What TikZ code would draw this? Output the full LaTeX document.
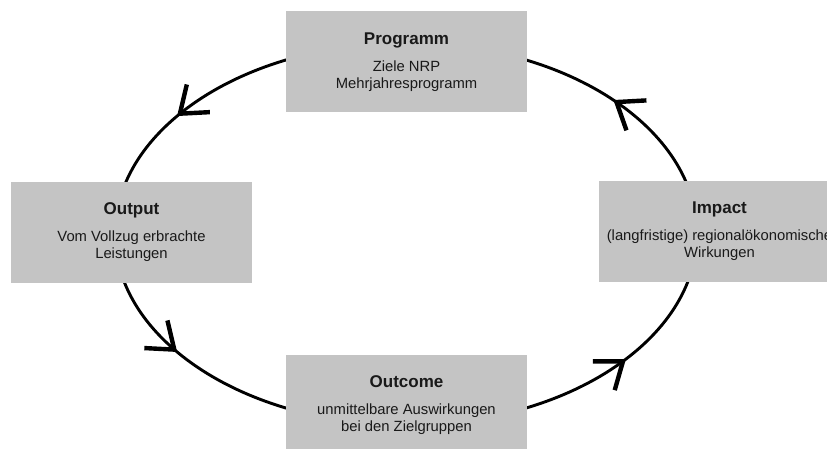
\documentclass[tikz,border=0pt]{standalone}
\usepackage{fontspec}
\setmainfont{Liberation Sans}
\usetikzlibrary{arrows.meta,decorations.markings}

\definecolor{boxgray}{RGB}{196,196,196}
\newcommand{\phasetitle}{\fontsize{17}{20}\selectfont\bfseries}

\tikzset{
	phase/.style={fill=boxgray, minimum width=241pt, minimum height=101pt, inner sep=0pt,
		align=center, font=\fontsize{14.8}{17}\selectfont, text=black!90},
	cyclearc/.style={line width=2.9pt,
		decoration={markings, mark=at position #1 with {\arrow{Straight Barb[length=24pt,width=36pt,line width=4.4pt]}}},
		postaction={decorate}}
}

\begin{document}
\begin{tikzpicture}[x=1pt, y=1pt]
		\useasboundingbox (0,0) rectangle (827,448);
		\clip (0,0) rectangle (827,448);
		
		%points of the loop under the boxes
		\coordinate (progIn) at (406,405);
		\coordinate (outputIn) at (115,214);
		\coordinate (outcomeIn) at (406,23);
		\coordinate (impactIn) at (697,214);
		
		%the loop
		\draw[cyclearc=0.64] (progIn) arc[start angle=90, end angle=180, x radius=291pt, y radius=191pt];
		\draw[cyclearc=0.36] (outputIn) arc[start angle=180, end angle=270, x radius=291pt, y radius=191pt];
		\draw[cyclearc=0.61] (outcomeIn) arc[start angle=270, end angle=360, x radius=291pt, y radius=191pt];
		\draw[cyclearc=0.43] (impactIn) arc[start angle=0, end angle=90, x radius=291pt, y radius=191pt];
		
		%boxes
		\node[phase] (prog) at (406.5,386) {{\phasetitle Programm}\\[10pt]Ziele NRP\\Mehrjahresprogramm};
		\node[phase] (output) at (131.5,215.5) {{\phasetitle Output}\\[10pt]Vom Vollzug erbrachte\\Leistungen};
		\node[phase] (outcome) at (406.5,43) {{\phasetitle Outcome}\\[10pt]unmittelbare Auswirkungen\\bei den Zielgruppen};
		\node[phase] (impact) at (719.5,217) {{\phasetitle Impact}\\[10pt](langfristige) regionalökonomische\\Wirkungen};
\end{tikzpicture}
\end{document}
